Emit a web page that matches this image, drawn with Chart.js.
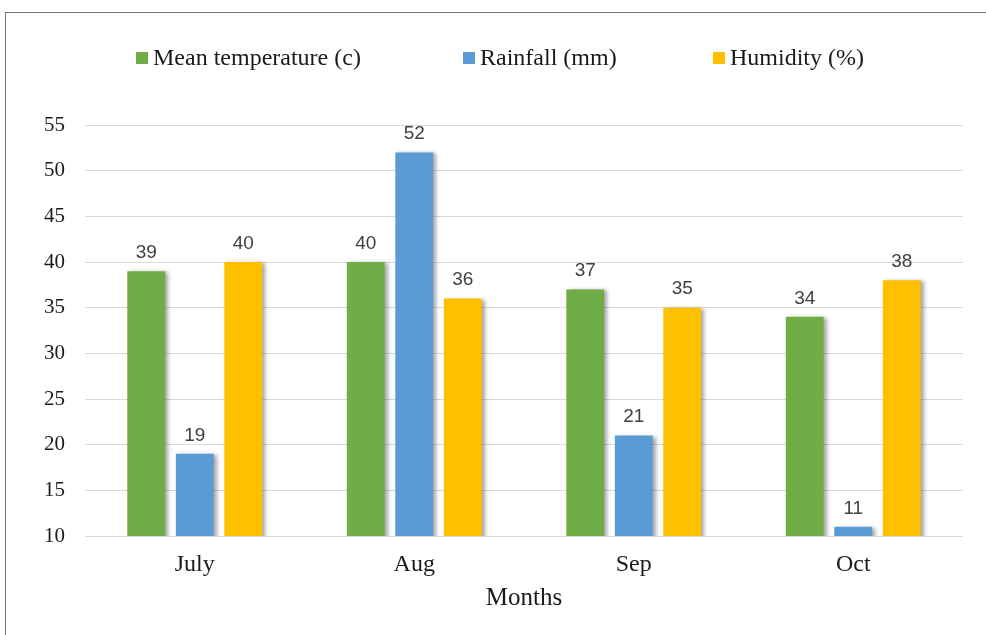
<!DOCTYPE html>
<html>
<head>
<meta charset="utf-8">
<script src="https://cdn.jsdelivr.net/npm/chart.js@4.4.0/dist/chart.umd.min.js"></script>
<style>
  body { margin: 0; background: #fff; }
  #wrap { position: relative; width: 986px; height: 635px; overflow: hidden; }
  #frame { position: absolute; left: 5px; top: 12px; width: 1000px; height: 700px;
           border-left: 1px solid #777; border-top: 1px solid #777; }
  canvas { position: absolute; left: 0; top: 0; }
</style>
</head>
<body>
<div id="wrap">
  <div id="frame"></div>
  <canvas id="myChart" width="986" height="635"></canvas>
</div>
<script>
// chart data
const months = ["July", "Aug", "Sep", "Oct"];
const meanTemp = [39, 40, 37, 34];
const rainfall = [19, 52, 21, 11];
const humidity = [40, 36, 35, 38];
const yTicks = [10, 15, 20, 25, 30, 35, 40, 45, 50, 55];

const serif = "'Liberation Serif', 'Times New Roman', serif";
const sans = "'Liberation Sans', Arial, sans-serif";

// soft shadow on the right of each bar
const barShadow = {
  id: 'barShadow',
  beforeDatasetsDraw(chart) {
    const ctx = chart.ctx;
    ctx.save();
    ctx.shadowColor = 'rgba(0,0,0,0.35)';
    ctx.shadowBlur = 4;
    ctx.shadowOffsetX = 3;
    ctx.shadowOffsetY = 1;
  },
  afterDatasetsDraw(chart) {
    chart.ctx.restore();
  }
};

// value labels above bars
const valueLabels = {
  id: 'valueLabels',
  afterDatasetsDraw(chart) {
    const ctx = chart.ctx;
    ctx.save();
    ctx.font = "19px " + sans;
    ctx.fillStyle = '#404040';
    ctx.textAlign = 'center';
    ctx.textBaseline = 'bottom';
    chart.data.datasets.forEach((ds, i) => {
      chart.getDatasetMeta(i).data.forEach((bar, j) => {
        ctx.fillText(ds.data[j], bar.x, bar.y - 9);
      });
    });
    ctx.restore();
  }
};

// legend row at the top
const topLegend = {
  id: 'topLegend',
  afterDraw(chart) {
    const ctx = chart.ctx;
    const xs = [136, 463, 713];
    ctx.save();
    ctx.font = "24px " + serif;
    ctx.textBaseline = 'middle';
    chart.data.datasets.forEach((ds, i) => {
      ctx.fillStyle = ds.backgroundColor;
      ctx.fillRect(xs[i], 52, 12, 12);
      ctx.fillStyle = '#1a1a1a';
      ctx.fillText(ds.label, xs[i] + 17, 59);
    });
    ctx.restore();
  }
};

new Chart("myChart", {
  type: 'bar',
  data: {
    labels: months,
    datasets: [
      { label: 'Mean temperature (c)', data: meanTemp, backgroundColor: '#70AD47' },
      { label: 'Rainfall (mm)', data: rainfall, backgroundColor: '#5B9BD5' },
      { label: 'Humidity (%)', data: humidity, backgroundColor: '#FFC000' }
    ]
  },
  options: {
    responsive: false,
    animation: false,
    layout: { padding: { top: 125, right: 23, bottom: 20, left: 0 } },
    datasets: {
      bar: { categoryPercentage: 0.663, barPercentage: 0.78 }
    },
    plugins: {
      legend: { display: false },
      tooltip: { enabled: false }
    },
    scales: {
      x: {
        type: 'category',
        grid: { display: false },
        border: { display: false },
        ticks: { font: { family: serif, size: 24, lineHeight: 1 }, color: '#1a1a1a', padding: 9 },
        title: {
          display: true, text: 'Months',
          font: { family: serif, size: 25, lineHeight: 1 }, color: '#1a1a1a',
          padding: { top: 0, bottom: 4 }
        }
      },
      y: {
        min: 10, max: 55,
        afterBuildTicks(scale) { scale.ticks = yTicks.map(v => ({ value: v })); },
        afterFit(scale) { scale.width = 85; },
        grid: { color: '#d9d9d9', lineWidth: 1, drawTicks: false },
        border: { display: false },
        ticks: { font: { family: serif, size: 21 }, color: '#1a1a1a', padding: 20 }
      }
    }
  },
  plugins: [barShadow, valueLabels, topLegend]
});
</script>
</body>
</html>
